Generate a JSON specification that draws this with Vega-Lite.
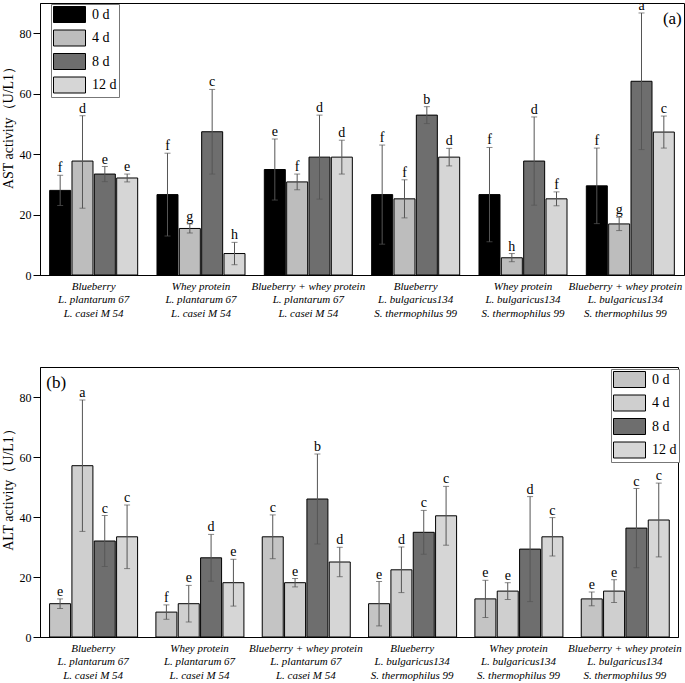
{
  "$schema": "https://vega.github.io/schema/vega-lite/v6.json",
  "padding": {"left": 0, "top": 2, "right": 0, "bottom": 0},
  "background": "white",
  "spacing": 47,
  "datasets": {
    "ast": [
      {"g": "Blueberry|L. plantarum 67|L. casei M 54", "day": "0 d", "mean": 28.0, "lo": 23.0, "hi": 33.0, "letter": "f"},
      {"g": "Blueberry|L. plantarum 67|L. casei M 54", "day": "4 d", "mean": 37.7, "lo": 22.1, "hi": 52.7, "letter": "d"},
      {"g": "Blueberry|L. plantarum 67|L. casei M 54", "day": "8 d", "mean": 33.4, "lo": 30.9, "hi": 35.9, "letter": "e"},
      {"g": "Blueberry|L. plantarum 67|L. casei M 54", "day": "12 d", "mean": 32.1, "lo": 30.8, "hi": 33.4, "letter": "e"},
      {"g": "Whey protein|L. plantarum 67|L. casei M 54", "day": "0 d", "mean": 26.6, "lo": 12.9, "hi": 40.3, "letter": "f"},
      {"g": "Whey protein|L. plantarum 67|L. casei M 54", "day": "4 d", "mean": 15.4, "lo": 13.9, "hi": 16.9, "letter": "g"},
      {"g": "Whey protein|L. plantarum 67|L. casei M 54", "day": "8 d", "mean": 47.4, "lo": 33.4, "hi": 61.4, "letter": "c"},
      {"g": "Whey protein|L. plantarum 67|L. casei M 54", "day": "12 d", "mean": 7.1, "lo": 3.4, "hi": 10.8, "letter": "h"},
      {"g": "Blueberry + whey protein|L. plantarum 67|L. casei M 54", "day": "0 d", "mean": 34.9, "lo": 24.8, "hi": 45.0, "letter": "e"},
      {"g": "Blueberry + whey protein|L. plantarum 67|L. casei M 54", "day": "4 d", "mean": 30.8, "lo": 28.2, "hi": 33.4, "letter": "f"},
      {"g": "Blueberry + whey protein|L. plantarum 67|L. casei M 54", "day": "8 d", "mean": 39.0, "lo": 25.1, "hi": 52.9, "letter": "d"},
      {"g": "Blueberry + whey protein|L. plantarum 67|L. casei M 54", "day": "12 d", "mean": 39.0, "lo": 33.4, "hi": 44.6, "letter": "d"},
      {"g": "Blueberry|L. bulgaricus134|S. thermophilus 99", "day": "0 d", "mean": 26.6, "lo": 10.2, "hi": 43.0, "letter": "f"},
      {"g": "Blueberry|L. bulgaricus134|S. thermophilus 99", "day": "4 d", "mean": 25.2, "lo": 18.9, "hi": 31.5, "letter": "f"},
      {"g": "Blueberry|L. bulgaricus134|S. thermophilus 99", "day": "8 d", "mean": 52.9, "lo": 50.1, "hi": 55.7, "letter": "b"},
      {"g": "Blueberry|L. bulgaricus134|S. thermophilus 99", "day": "12 d", "mean": 39.0, "lo": 36.1, "hi": 41.9, "letter": "d"},
      {"g": "Whey protein|L. bulgaricus134|S. thermophilus 99", "day": "0 d", "mean": 26.6, "lo": 11.0, "hi": 42.2, "letter": "f"},
      {"g": "Whey protein|L. bulgaricus134|S. thermophilus 99", "day": "4 d", "mean": 5.7, "lo": 4.4, "hi": 7.1, "letter": "h"},
      {"g": "Whey protein|L. bulgaricus134|S. thermophilus 99", "day": "8 d", "mean": 37.7, "lo": 23.1, "hi": 52.3, "letter": "d"},
      {"g": "Whey protein|L. bulgaricus134|S. thermophilus 99", "day": "12 d", "mean": 25.2, "lo": 22.9, "hi": 27.5, "letter": "f"},
      {"g": "Blueberry + whey protein|L. bulgaricus134|S. thermophilus 99", "day": "0 d", "mean": 29.5, "lo": 17.0, "hi": 42.0, "letter": "f"},
      {"g": "Blueberry + whey protein|L. bulgaricus134|S. thermophilus 99", "day": "4 d", "mean": 16.9, "lo": 14.7, "hi": 19.1, "letter": "g"},
      {"g": "Blueberry + whey protein|L. bulgaricus134|S. thermophilus 99", "day": "8 d", "mean": 64.1, "lo": 41.5, "hi": 86.7, "letter": "a"},
      {"g": "Blueberry + whey protein|L. bulgaricus134|S. thermophilus 99", "day": "12 d", "mean": 47.3, "lo": 42.0, "hi": 52.6, "letter": "c"}
    ],
    "alt": [
      {"g": "Blueberry|L. plantarum 67|L. casei M 54", "day": "0 d", "mean": 11.1, "lo": 9.5, "hi": 12.7, "letter": "e"},
      {"g": "Blueberry|L. plantarum 67|L. casei M 54", "day": "4 d", "mean": 57.1, "lo": 35.2, "hi": 79.0, "letter": "a"},
      {"g": "Blueberry|L. plantarum 67|L. casei M 54", "day": "8 d", "mean": 32.0, "lo": 23.5, "hi": 40.5, "letter": "c"},
      {"g": "Blueberry|L. plantarum 67|L. casei M 54", "day": "12 d", "mean": 33.4, "lo": 22.8, "hi": 44.0, "letter": "c"},
      {"g": "Whey protein|L. plantarum 67|L. casei M 54", "day": "0 d", "mean": 8.3, "lo": 5.9, "hi": 10.7, "letter": "f"},
      {"g": "Whey protein|L. plantarum 67|L. casei M 54", "day": "4 d", "mean": 11.1, "lo": 5.0, "hi": 17.2, "letter": "e"},
      {"g": "Whey protein|L. plantarum 67|L. casei M 54", "day": "8 d", "mean": 26.4, "lo": 18.6, "hi": 34.2, "letter": "d"},
      {"g": "Whey protein|L. plantarum 67|L. casei M 54", "day": "12 d", "mean": 18.1, "lo": 10.3, "hi": 25.9, "letter": "e"},
      {"g": "Blueberry + whey protein|L. plantarum 67|L. casei M 54", "day": "0 d", "mean": 33.4, "lo": 26.1, "hi": 40.7, "letter": "c"},
      {"g": "Blueberry + whey protein|L. plantarum 67|L. casei M 54", "day": "4 d", "mean": 18.1, "lo": 16.7, "hi": 19.5, "letter": "e"},
      {"g": "Blueberry + whey protein|L. plantarum 67|L. casei M 54", "day": "8 d", "mean": 46.0, "lo": 31.0, "hi": 61.0, "letter": "b"},
      {"g": "Blueberry + whey protein|L. plantarum 67|L. casei M 54", "day": "12 d", "mean": 25.0, "lo": 20.1, "hi": 29.9, "letter": "d"},
      {"g": "Blueberry|L. bulgaricus134|S. thermophilus 99", "day": "0 d", "mean": 11.1, "lo": 3.7, "hi": 18.5, "letter": "e"},
      {"g": "Blueberry|L. bulgaricus134|S. thermophilus 99", "day": "4 d", "mean": 22.4, "lo": 14.8, "hi": 30.0, "letter": "d"},
      {"g": "Blueberry|L. bulgaricus134|S. thermophilus 99", "day": "8 d", "mean": 34.9, "lo": 27.6, "hi": 42.2, "letter": "c"},
      {"g": "Blueberry|L. bulgaricus134|S. thermophilus 99", "day": "12 d", "mean": 40.4, "lo": 30.6, "hi": 50.2, "letter": "c"},
      {"g": "Whey protein|L. bulgaricus134|S. thermophilus 99", "day": "0 d", "mean": 12.7, "lo": 6.5, "hi": 18.9, "letter": "e"},
      {"g": "Whey protein|L. bulgaricus134|S. thermophilus 99", "day": "4 d", "mean": 15.3, "lo": 12.5, "hi": 18.1, "letter": "e"},
      {"g": "Whey protein|L. bulgaricus134|S. thermophilus 99", "day": "8 d", "mean": 29.3, "lo": 11.8, "hi": 46.8, "letter": "d"},
      {"g": "Whey protein|L. bulgaricus134|S. thermophilus 99", "day": "12 d", "mean": 33.4, "lo": 27.0, "hi": 39.8, "letter": "c"},
      {"g": "Blueberry + whey protein|L. bulgaricus134|S. thermophilus 99", "day": "0 d", "mean": 12.7, "lo": 10.4, "hi": 15.0, "letter": "e"},
      {"g": "Blueberry + whey protein|L. bulgaricus134|S. thermophilus 99", "day": "4 d", "mean": 15.3, "lo": 11.5, "hi": 19.1, "letter": "e"},
      {"g": "Blueberry + whey protein|L. bulgaricus134|S. thermophilus 99", "day": "8 d", "mean": 36.3, "lo": 23.1, "hi": 49.5, "letter": "c"},
      {"g": "Blueberry + whey protein|L. bulgaricus134|S. thermophilus 99", "day": "12 d", "mean": 39.0, "lo": 26.7, "hi": 51.3, "letter": "c"}
    ]
  },
  "resolve": {"scale": {"fill": "independent"}, "legend": {"fill": "independent"}},
  "vconcat": [
    {
      "width": 644,
      "height": 272,
      "data": {"name": "ast"},
      "encoding": {
        "x": {"field": "g", "type": "nominal", "sort": null,
          "scale": {"paddingInner": 0.18, "paddingOuter": 0.09},
          "axis": {"title": null, "labelAngle": 0, "labelExpr": "split(datum.label, '|')", "labelFontStyle": "italic", "labelFontSize": 11, "labelLineHeight": 13.5, "labelPadding": 5, "ticks": false, "labelLimit": 0,
            "labelOffset": {"condition": {"test": "datum.value == 'Blueberry + whey protein|L. bulgaricus134|S. thermophilus 99'", "value": -5}, "value": 0}}},
        "xOffset": {"field": "day", "type": "nominal", "sort": ["0 d", "4 d", "8 d", "12 d"], "scale": {"paddingInner": 0.06, "paddingOuter": 0}}
      },
      "layer": [
        {
          "mark": {"type": "bar", "stroke": "black", "strokeWidth": 1},
          "encoding": {
            "y": {"field": "mean", "type": "quantitative", "title": "AST activity（U/L1）", "scale": {"domain": [0, 90], "nice": false},
              "axis": {"values": [0, 10, 20, 30, 40, 50, 60, 70, 80], "labelExpr": "datum.value % 20 == 0 ? datum.label : ''", "tickSize": {"condition": {"test": "datum.value % 20 == 0", "value": 7}, "value": 4}, "labelFontSize": 12, "labelPadding": 2, "titleFontSize": 14, "titlePadding": 4, "titleY": 121, "grid": false}},
            "fill": {"field": "day", "type": "nominal", "sort": ["0 d", "4 d", "8 d", "12 d"],
              "scale": {"domain": ["0 d", "4 d", "8 d", "12 d"], "range": ["#000000", "#bdbdbd", "#6e6e6e", "#d6d6d6"]},
              "legend": {"title": null, "orient": "none", "legendX": 11, "legendY": 1}}
          }
        },
        {
          "mark": {"type": "rule", "color": "#555", "strokeWidth": 1},
          "encoding": {"y": {"field": "lo", "type": "quantitative", "title": "AST activity（U/L1）"}, "y2": {"field": "hi"}}
        },
        {
          "mark": {"type": "tick", "color": "#555", "size": 6, "thickness": 1},
          "encoding": {"y": {"field": "hi", "type": "quantitative", "title": "AST activity（U/L1）"}}
        },
        {
          "mark": {"type": "tick", "color": "#555", "size": 6, "thickness": 1},
          "encoding": {"y": {"field": "lo", "type": "quantitative", "title": "AST activity（U/L1）"}}
        },
        {
          "mark": {"type": "text", "dy": -3, "fontSize": 14, "font": "Liberation Serif", "color": "black", "baseline": "alphabetic", "clip": true},
          "encoding": {"y": {"field": "hi", "type": "quantitative", "title": "AST activity（U/L1）"}, "text": {"field": "letter"}}
        },
        {
          "data": {"values": [{"t": "(a)"}]},
          "mark": {"type": "text", "fontSize": 17, "font": "Liberation Serif", "color": "black", "dx": 42, "baseline": "middle"},
          "encoding": {
            "x": {"datum": "Blueberry + whey protein|L. bulgaricus134|S. thermophilus 99", "type": "nominal"},
            "xOffset": null,
            "y": {"datum": 84.6, "type": "quantitative", "title": "AST activity（U/L1）"},
            "text": {"field": "t"}
          }
        }
      ]
    },
    {
      "width": 638,
      "height": 270,
      "data": {"name": "alt"},
      "encoding": {
        "x": {"field": "g", "type": "nominal", "sort": null,
          "scale": {"paddingInner": 0.18, "paddingOuter": 0.09},
          "axis": {"title": null, "labelAngle": 0, "labelExpr": "split(datum.label, '|')", "labelFontStyle": "italic", "labelFontSize": 11, "labelLineHeight": 13.5, "labelPadding": 5, "ticks": false, "labelLimit": 0}},
        "xOffset": {"field": "day", "type": "nominal", "sort": ["0 d", "4 d", "8 d", "12 d"], "scale": {"paddingInner": 0.06, "paddingOuter": 0}}
      },
      "layer": [
        {
          "mark": {"type": "bar", "stroke": "black", "strokeWidth": 1},
          "encoding": {
            "y": {"field": "mean", "type": "quantitative", "title": "ALT activity（U/L1）", "scale": {"domain": [0, 90], "nice": false},
              "axis": {"values": [0, 10, 20, 30, 40, 50, 60, 70, 80], "labelExpr": "datum.value % 20 == 0 ? datum.label : ''", "tickSize": {"condition": {"test": "datum.value % 20 == 0", "value": 7}, "value": 4}, "labelFontSize": 12, "labelPadding": 2, "titleFontSize": 14, "titlePadding": 4, "titleY": 119, "grid": false}},
            "fill": {"field": "day", "type": "nominal", "sort": ["0 d", "4 d", "8 d", "12 d"],
              "scale": {"domain": ["0 d", "4 d", "8 d", "12 d"], "range": ["#c4c4c4", "#cfcfcf", "#6e6e6e", "#d6d6d6"]},
              "legend": {"title": null, "orient": "none", "legendX": 571, "legendY": 2}}
          }
        },
        {
          "mark": {"type": "rule", "color": "#555", "strokeWidth": 1},
          "encoding": {"y": {"field": "lo", "type": "quantitative", "title": "ALT activity（U/L1）"}, "y2": {"field": "hi"}}
        },
        {
          "mark": {"type": "tick", "color": "#555", "size": 6, "thickness": 1},
          "encoding": {"y": {"field": "hi", "type": "quantitative", "title": "ALT activity（U/L1）"}}
        },
        {
          "mark": {"type": "tick", "color": "#555", "size": 6, "thickness": 1},
          "encoding": {"y": {"field": "lo", "type": "quantitative", "title": "ALT activity（U/L1）"}}
        },
        {
          "mark": {"type": "text", "dy": -3, "fontSize": 14, "font": "Liberation Serif", "color": "black", "baseline": "alphabetic", "clip": true},
          "encoding": {"y": {"field": "hi", "type": "quantitative", "title": "ALT activity（U/L1）"}, "text": {"field": "letter"}}
        },
        {
          "data": {"values": [{"t": "(b)"}]},
          "mark": {"type": "text", "fontSize": 17, "font": "Liberation Serif", "color": "black", "dx": -37, "baseline": "middle"},
          "encoding": {
            "x": {"datum": "Blueberry|L. plantarum 67|L. casei M 54", "type": "nominal"},
            "xOffset": null,
            "y": {"datum": 84.7, "type": "quantitative", "title": "ALT activity（U/L1）"},
            "text": {"field": "t"}
          }
        }
      ]
    }
  ],
  "config": {
    "view": {"stroke": "black", "strokeWidth": 1},
    "font": "Liberation Serif",
    "axis": {"domainColor": "black", "tickColor": "black", "labelColor": "black", "titleColor": "black", "labelFont": "Liberation Serif", "titleFont": "Liberation Serif", "titleFontWeight": "normal"},
    "legend": {
      "strokeColor": "#777", "fillColor": "white", "padding": 2, "rowPadding": 2.5,
      "symbolType": "M-1,-1H3V1H-1Z", "symbolSize": 256, "symbolStrokeColor": "black", "symbolStrokeWidth": 1,
      "labelFont": "Liberation Serif", "labelFontSize": 14, "labelColor": "black", "labelOffset": 22
    }
  }
}
